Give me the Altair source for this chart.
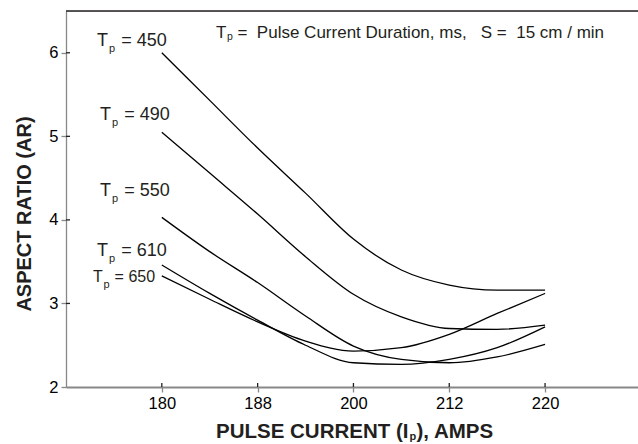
import json
import altair as alt
import pandas as pd

# ---------------- data ----------------
currents = [180, 188, 200, 212, 220]                  # tick labels (evenly spaced on the axis)
positions = [0, 0.5, 1, 1.5, 2, 2.5, 3, 3.5, 4]        # position along the current axis (tick index)
durations = [450, 490, 550, 610, 650]                  # pulse current duration, ms
ar_450 = [6.00, 5.43, 4.86, 4.32, 3.77, 3.40, 3.22, 3.16, 3.16]
ar_490 = [5.05, 4.56, 4.07, 3.56, 3.11, 2.84, 2.70, 2.69, 2.74]
ar_550 = [4.03, 3.62, 3.25, 2.85, 2.49, 2.33, 2.29, 2.36, 2.51]
ar_610 = [3.46, 3.12, 2.80, 2.50, 2.29, 2.27, 2.33, 2.47, 2.72]
ar_650 = [3.33, 3.05, 2.78, 2.55, 2.43, 2.47, 2.63, 2.88, 3.12]
y_ticks = [2, 3, 4, 5, 6]

series = [ar_450, ar_490, ar_550, ar_610, ar_650]
rows = []
for d, vals in zip(durations, series):
    for p, v in zip(positions, vals):
        rows.append({"pos": p, "ar": v, "dur": d})
df = pd.DataFrame(rows)

# ---------------- layout ----------------
W, H = 572, 376
LEFT, TOP = 66, 11
FONT = "Liberation Sans"
INK = "#231f20"

xscale = alt.Scale(domain=[-1, 4.97], nice=False, zero=False)
yscale = alt.Scale(domain=[2, 6.5], nice=False, zero=False)

label_expr = json.dumps([str(c) for c in currents]) + "[datum.value]"

x_axis = alt.Axis(values=list(range(len(currents))), labelExpr=label_expr, title=None,
                  grid=False, domainWidth=2, tickWidth=1.3, tickSize=5,
                  labelPadding=3, labelFontSize=16.5)
y_axis = alt.Axis(values=y_ticks, title=None, grid=False, domainWidth=1.3,
                  tickWidth=1.3, tickSize=5, labelPadding=3, labelFontSize=16.5)

lines = alt.Chart(df).mark_line(interpolate="monotone", color="black", strokeWidth=1.3).encode(
    x=alt.X("pos:Q", scale=xscale, axis=x_axis),
    y=alt.Y("ar:Q", scale=yscale, axis=y_axis),
    detail="dur:N")

# inward halves of the crossing tick marks
yt = alt.Chart(pd.DataFrame({"ar": y_ticks[1:]})).mark_rule(color=INK, strokeWidth=1.3).encode(
    y=alt.Y("ar:Q", scale=yscale, axis=y_axis), x=alt.value(0), x2=alt.value(4))
xt = alt.Chart(pd.DataFrame({"pos": list(range(len(currents)))})).mark_rule(color=INK, strokeWidth=1.3).encode(
    x=alt.X("pos:Q", scale=xscale, axis=x_axis), y=alt.value(H - 4), y2=alt.value(H))
top_border = alt.Chart(pd.DataFrame({"k": [0]})).mark_rule(color=INK, strokeWidth=1.3).encode(
    x=alt.value(0), x2=alt.value(W), y=alt.value(0))

one = pd.DataFrame({"k": [0]})


def txt(s, x, y, size, weight="normal", angle=0, align="left"):
    return alt.Chart(one).mark_text(
        text=s, fontSize=size, fontWeight=weight, font=FONT, color=INK,
        align=align, baseline="alphabetic", angle=angle
    ).encode(x=alt.value(x - LEFT), y=alt.value(y - TOP))


texts = []
# curve labels (page pixel anchors)
lab_x = [97, 100, 100, 97, 93]
lab_y = [46, 120, 196, 256, 282]
lab_fs = [18, 18, 18, 18, 16]
for d, lx, ly, fs in zip(durations, lab_x, lab_y, lab_fs):
    texts.append(txt("T", lx, ly, fs))
    texts.append(txt("p", lx + fs * 0.66, ly + 6, 11))
    texts.append(txt(f"= {d}", lx + fs * 1.35, ly, fs))

# note
NB = "\u00a0"
texts.append(txt("T", 216, 38, 17))
texts.append(txt("p", 227, 40, 10.5))
texts.append(txt(f"={NB}{NB}Pulse Current Duration, ms,{NB}{NB}{NB}S ={NB}{NB}15 cm / min", 237.5, 38, 17))

# axis titles
texts.append(txt("ASPECT RATIO (AR)", 31, 214, 20, weight="bold", angle=270, align="center"))
texts.append(txt("PULSE CURRENT (I", 408.5, 438, 20.5, weight="bold", align="right"))
texts.append(txt("p", 409.5, 440, 11, weight="bold"))
texts.append(txt("), AMPS", 416.5, 438, 20.5, weight="bold"))

chart = alt.layer(lines, yt, xt, top_border, *texts).properties(
    width=W, height=H,
    autosize=alt.AutoSizeParams(type="none"),
    padding={"left": LEFT, "top": TOP, "right": 0, "bottom": 444 - TOP - H},
).configure_view(stroke=None).configure_axis(
    labelFont=FONT, labelColor=INK, tickColor=INK, domainColor=INK
).configure(background="white")

chart.save("out.html", embed_options={"renderer": "svg", "actions": False})
